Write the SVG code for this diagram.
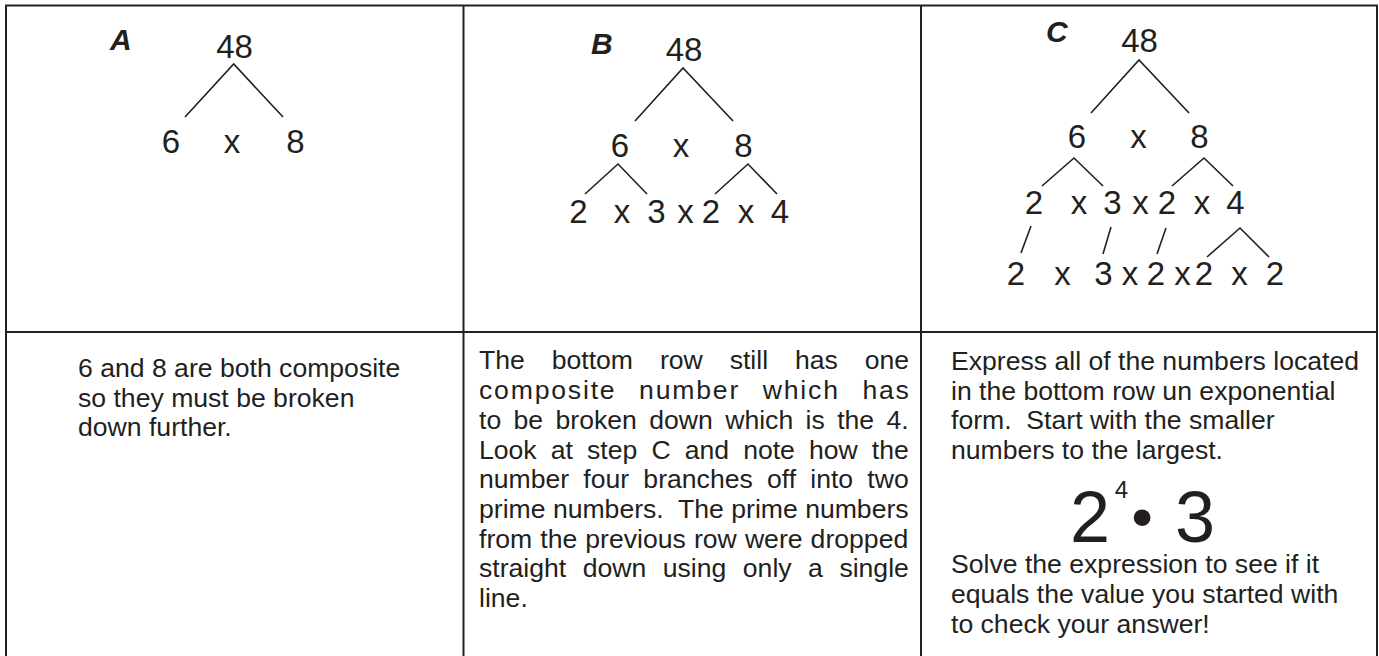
<svg xmlns="http://www.w3.org/2000/svg" width="1379" height="656" viewBox="0 0 1379 656">
<style>
text{font-family:"Liberation Sans",Arial,sans-serif;fill:#231f20}
.t{font-size:33px;text-anchor:middle}
.lbl{font-size:30px;font-weight:bold;font-style:italic}
.p{font-size:26.6px}
.grid{stroke:#231f20;stroke-width:2;fill:none}
.br{stroke:#231f20;stroke-width:1.6;fill:none}
</style>
<rect width="1379" height="656" fill="#fff"/>
<g id="table">
<path class="grid" d="M5 5.5H1378M6 5V656M1377 5V656M463.5 5V656M921 5V656M5 332H1378"/>
</g>
<g id="connectors">
<polyline class="br" points="185,117 233.7,64 283,117"/>
<polyline class="br" points="635,121 683,68 733,121"/>
<polyline class="br" points="585,194 618,164 647,194"/>
<polyline class="br" points="715,194 748,164 777,194"/>
<polyline class="br" points="1091,113 1139,60 1189,113"/>
<polyline class="br" points="1042,186 1074,158 1103,186"/>
<polyline class="br" points="1172,186 1204,158 1233,186"/>
<line class="br" x1="1031" y1="226" x2="1021" y2="253"/>
<line class="br" x1="1111" y1="227" x2="1103" y2="254"/>
<line class="br" x1="1166" y1="228" x2="1157" y2="254"/>
<polyline class="br" points="1207,257 1240,228 1269,257"/>
</g>
<g id="panelA">
<text class="lbl" x="110" y="50">A</text>
<text class="t" x="234.5" y="58">48</text>
<text class="t" y="153"><tspan x="171">6</tspan><tspan x="232">x</tspan><tspan x="295.5">8</tspan></text>
</g>
<g id="panelB">
<text class="lbl" x="591" y="54">B</text>
<text class="t" x="684" y="61">48</text>
<text class="t" y="157"><tspan x="620">6</tspan><tspan x="681">x</tspan><tspan x="743.5">8</tspan></text>
<text class="t" y="223"><tspan x="578.5">2</tspan><tspan x="622">x</tspan><tspan x="656.5">3</tspan><tspan x="685.5">x</tspan><tspan x="711">2</tspan><tspan x="746">x</tspan><tspan x="780">4</tspan></text>
</g>
<g id="panelC">
<text class="lbl" x="1046" y="42">C</text>
<text class="t" x="1139.5" y="52">48</text>
<text class="t" y="148"><tspan x="1077">6</tspan><tspan x="1138.5">x</tspan><tspan x="1199.5">8</tspan></text>
<text class="t" y="214"><tspan x="1034">2</tspan><tspan x="1079">x</tspan><tspan x="1112.5">3</tspan><tspan x="1140.5">x</tspan><tspan x="1167">2</tspan><tspan x="1202">x</tspan><tspan x="1235.5">4</tspan></text>
<text class="t" y="285"><tspan x="1016">2</tspan><tspan x="1062.5">x</tspan><tspan x="1103.5">3</tspan><tspan x="1130">x</tspan><tspan x="1156">2</tspan><tspan x="1182.5">x</tspan><tspan x="1204">2</tspan><tspan x="1239.5">x</tspan><tspan x="1275">2</tspan></text>
</g>
<g id="noteA">
<text class="p" x="78" y="377">6 and 8 are both composite</text>
<text class="p" x="78" y="406.7">so they must be broken</text>
<text class="p" x="78" y="436">down further.</text>
</g>
<g id="noteB">
<text class="p" x="479" y="369" word-spacing="19.5">The bottom row still has one</text>
<text class="p" x="479" y="399" letter-spacing="1.8" word-spacing="13.5">composite number which has</text>
<text class="p" x="479" y="429" word-spacing="5">to be broken down which is the 4.</text>
<text class="p" x="479" y="458.5" word-spacing="6.7">Look at step C and note how the</text>
<text class="p" x="479" y="488" word-spacing="6.8">number four branches off into two</text>
<text class="p" x="479" y="518" xml:space="preserve">prime numbers.  The prime numbers</text>
<text class="p" x="479" y="548" word-spacing="0.7">from the previous row were dropped</text>
<text class="p" x="479" y="577" word-spacing="9.1">straight down using only a single</text>
<text class="p" x="479" y="607">line.</text>
</g>
<g id="noteC">
<text class="p" x="951" y="370">Express all of the numbers located</text>
<text class="p" x="951" y="399.5">in the bottom row un exponential</text>
<text class="p" x="951" y="429" xml:space="preserve">form.  Start with the smaller</text>
<text class="p" x="951" y="458.5">numbers to the largest.</text>
<text style="text-anchor:middle"><tspan x="1090" y="542" font-size="72">2</tspan><tspan x="1121.5" y="498" font-size="24">4</tspan><tspan x="1142" y="538" font-size="62">•</tspan><tspan x="1195" y="542" font-size="72">3</tspan></text>
<text class="p" x="951" y="573">Solve the expression to see if it</text>
<text class="p" x="951" y="603">equals the value you started with</text>
<text class="p" x="951" y="633">to check your answer!</text>
</g>
</svg>
